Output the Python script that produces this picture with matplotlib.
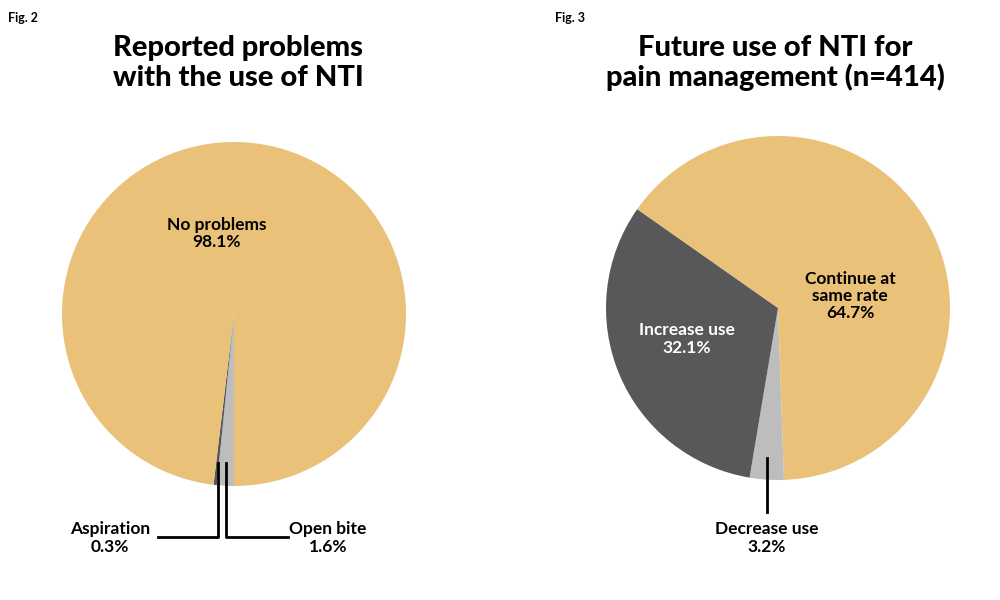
import matplotlib
matplotlib.use("Agg")
import matplotlib.pyplot as plt
from matplotlib.lines import Line2D

ORANGE = "#EAC178"
GRAY = "#BDBDBD"
DARK = "#58585A"

# Fig. 2 data (clockwise from bottom)
problem_labels = ["Open bite", "Aspiration", "No problems"]
problem_values = [1.6, 0.3, 98.1]
problem_colors = [GRAY, DARK, ORANGE]

# Fig. 3 data (clockwise from bottom)
future_labels = ["Decrease use", "Increase use", "Continue at\nsame rate"]
future_values = [3.2, 32.1, 64.7]
future_colors = [GRAY, DARK, ORANGE]

W, H = 1000, 600
fig = plt.figure(figsize=(W / 100, H / 100), dpi=100)
fig.patch.set_facecolor("white")


def px_axes(cx, cy, r):
    return fig.add_axes([(cx - r) / W, (H - cy - r) / H, 2 * r / W, 2 * r / H])


def fig_text(x, y, s, **kw):
    fig.text(x / W, 1 - y / H, s, **kw)


def fig_line(xs, ys):
    fig.add_artist(Line2D([x / W for x in xs], [1 - y / H for y in ys],
                          color="black", lw=2, transform=fig.transFigure))


font = "Lato"
title_kw = dict(fontsize=21, fontweight="black", ha="center", va="center",
                family=font, linespacing=1.15)
lab_kw = dict(fontsize=12.5, fontweight="bold", ha="center", va="center",
              family=font, linespacing=1.1)

# left pie
ax1 = px_axes(234, 314, 172)
ax1.pie(problem_values, colors=problem_colors, startangle=270, counterclock=False,
        radius=1, wedgeprops=dict(linewidth=0))
ax1.set_xlim(-1, 1)
ax1.set_ylim(-1, 1)
ax1.axis("off")
ax1.text(-0.1, 0.47, f"{problem_labels[2]}\n{problem_values[2]}%", **lab_kw)

# right pie
ax2 = px_axes(778, 308, 172)
ax2.pie(future_values, colors=future_colors, startangle=272, counterclock=False,
        radius=1, wedgeprops=dict(linewidth=0))
ax2.set_xlim(-1, 1)
ax2.set_ylim(-1, 1)
ax2.axis("off")
ax2.text(-0.53, -0.18, f"{future_labels[1]}\n{future_values[1]}%", color="white", **lab_kw)
ax2.text(0.42, 0.07, f"{future_labels[2]}\n{future_values[2]}%", **lab_kw)

# titles
fig_text(8, 18, "Fig. 2", fontsize=9, fontweight="bold", ha="left", va="center", family=font)
fig_text(555, 18, "Fig. 3", fontsize=9, fontweight="bold", ha="left", va="center", family=font)
fig_text(238, 63, "Reported problems\nwith the use of NTI", **title_kw)
fig_text(775, 63, "Future use of NTI for\npain management (n=414)", **title_kw)

# leader lines and outside labels
fig_line([218, 218, 158], [463, 537, 537])
fig_line([226, 226, 288], [463, 537, 537])
fig_line([767, 767], [458, 512])
fig_text(110, 538, f"{problem_labels[1]}\n{problem_values[1]}%", **lab_kw)
fig_text(328, 538, f"{problem_labels[0]}\n{problem_values[0]}%", **lab_kw)
fig_text(767, 538, f"{future_labels[0]}\n{future_values[0]}%", **lab_kw)

fig.savefig("out.png", dpi=100)
